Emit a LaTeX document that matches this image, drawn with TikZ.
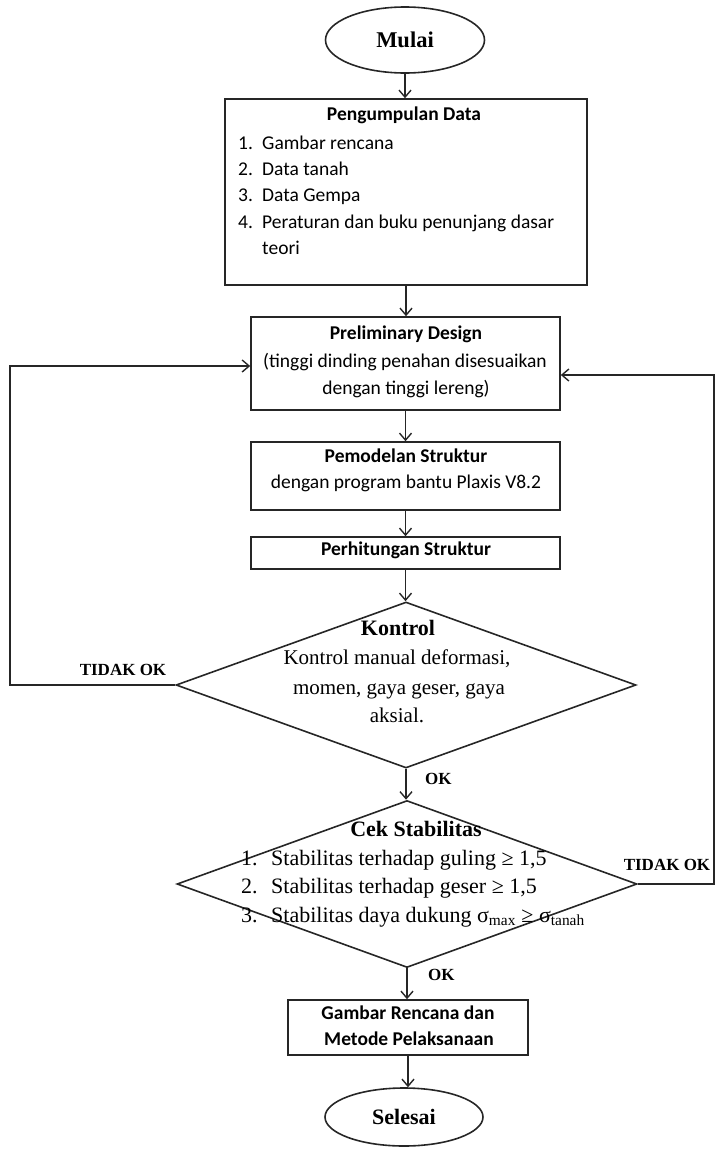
\documentclass[tikz,border=0pt]{standalone}
\usepackage{fontspec}
\setmainfont{Liberation Serif}
\newfontfamily\calibri{Carlito}
\usetikzlibrary{arrows.meta,shapes.geometric}
\begin{document}
\begin{tikzpicture}[x=1pt,y=-1pt,
  line/.style={draw=black!85, line width=1.6pt},
  arr/.style={line, -{Straight Barb[length=7pt,width=12pt,line width=1.4pt]}},
  box/.style={line, rectangle, inner sep=0pt},
  dia/.style={line, diamond, inner sep=0pt},
  ell/.style={line, ellipse, inner sep=0pt},
  cb/.style={font=\calibri\bfseries\fontsize{19.5}{22}\selectfont, inner sep=0pt, anchor=mid},
  cn/.style={font=\calibri\fontsize{19.5}{22}\selectfont, inner sep=0pt, anchor=mid},
  tb/.style={font=\bfseries\fontsize{22}{26}\selectfont, inner sep=0pt, anchor=mid},
  tn/.style={font=\fontsize{21}{26}\selectfont, inner sep=0pt, anchor=mid},
  ti/.style={font=\fontsize{22}{26}\selectfont, inner sep=0pt, anchor=mid west},
  lab/.style={font=\bfseries\fontsize{17}{20}\selectfont, inner sep=0pt, anchor=mid}
]
\useasboundingbox (0,0) rectangle (717,1149);

% Start
\node[ell, minimum width=159pt, minimum height=66pt, font=\bfseries\fontsize{22.5}{26}\selectfont] (mulai) at (405,40) {Mulai};

% Pengumpulan Data
\node[box, minimum width=362pt, minimum height=186pt] (data) at (406,192) {};
\node[cb] (dt) at (404,118) {Pengumpulan Data};
\node[cn, anchor=mid west] (d1n) at (238,147) {1.};
\node[cn, anchor=mid west] (d1) at (262,147) {Gambar rencana};
\node[cn, anchor=mid west] (d2n) at (238,173) {2.};
\node[cn, anchor=mid west] (d2) at (262,173) {Data tanah};
\node[cn, anchor=mid west] (d3n) at (238,199) {3.};
\node[cn, anchor=mid west] (d3) at (262,199) {Data Gempa};
\node[cn, anchor=mid west] (d4n) at (238,226) {4.};
\node[cn, anchor=mid west] (d4) at (262,226) {Peraturan dan buku penunjang dasar};
\node[cn, anchor=mid west] (d5) at (262,252) {teori};

% Preliminary Design
\node[box, minimum width=309pt, minimum height=93pt] (pre) at (405.5,363.5) {};
\node[cb] (pt) at (406,337) {Preliminary Design};
\node[cn] (p1) at (405,365) {(tinggi dinding penahan disesuaikan};
\node[cn] (p2) at (406,392) {dengan tinggi lereng)};

% Pemodelan Struktur
\node[box, minimum width=309pt, minimum height=68pt] (mod) at (405.5,476) {};
\node[cb] (mt) at (406,460) {Pemodelan Struktur};
\node[cn] (m1) at (406,486) {dengan program bantu Plaxis V8.2};

% Perhitungan Struktur
\node[box, minimum width=309pt, minimum height=32pt] (hit) at (405.5,553) {};
\node[cb] (ht) at (406,553) {Perhitungan Struktur};

% Kontrol
\node[dia, minimum width=460pt, minimum height=166pt] (kon) at (406,685) {};
\node[tb] (kt) at (398,633) {Kontrol};
\node[tn] (k1) at (397,662) {Kontrol manual deformasi,};
\node[tn] (k2) at (399,692) {momen, gaya geser, gaya};
\node[tn] (k3) at (397,720) {aksial.};

% Cek Stabilitas
\node[dia, minimum width=460pt, minimum height=167pt] (cek) at (407,884) {};
\node[tb] (ct) at (416,834) {Cek Stabilitas};
\node[ti] (c1n) at (241,863) {1.};
\node[ti] (c1) at (271,863) {Stabilitas terhadap guling ≥ 1,5};
\node[ti] (c2n) at (241,891) {2.};
\node[ti] (c2) at (271,891) {Stabilitas terhadap geser ≥ 1,5};
\node[ti] (c3n) at (241,920) {3.};
\node[ti] (c3) at (271,920) {Stabilitas daya dukung σ\textsubscript{max} ≥ σ\textsubscript{tanah}};

% Gambar Rencana
\node[box, minimum width=240pt, minimum height=55pt] (gam) at (408,1027.5) {};
\node[cb] (g1) at (408,1017) {Gambar Rencana dan};
\node[cb] (g2) at (409,1043) {Metode Pelaksanaan};

% End
\node[ell, minimum width=158pt, minimum height=58pt, font=\bfseries\fontsize{22}{26}\selectfont] (sel) at (404,1117) {Selesai};

% Labels
\node[lab] (tok1) at (123,673) {TIDAK OK};
\node[lab] (tok2) at (667,868) {TIDAK OK};
\node[lab, anchor=mid west] (ok1) at (425,782) {OK};
\node[lab, anchor=mid west] (ok2) at (428,978) {OK};

% Connectors
\draw[arr] (mulai.south) -- (mulai.south |- data.north);
\draw[arr] (data.south) -- (data.south |- pre.north);
\draw[arr] (pre.south) -- (pre.south |- mod.north);
\draw[arr] (mod.south) -- (mod.south |- hit.north);
\draw[arr] (hit.south) -- (hit.south |- kon.north);
\draw[arr] (kon.south) -- (kon.south |- cek.north);
\draw[arr] (cek.south) -- (cek.south |- gam.north);
\draw[arr] (gam.south) -- (gam.south |- sel.north);

\coordinate (lc) at (10,685);
\coordinate (rc) at (714,884);
\draw[arr] (kon.west) -- (lc) |- ([yshift=-2.5pt]pre.west);
\draw[arr] (cek.east) -- (rc) |- ([yshift=-11.5pt]pre.east);
\end{tikzpicture}
\end{document}
